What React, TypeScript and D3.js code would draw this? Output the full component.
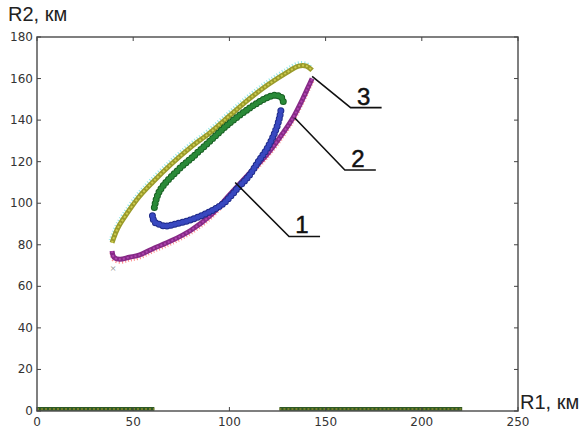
import React from "react";
import * as d3 from "d3";

// outer upper arc (triangles, 3)
const yellowX = [39, 42, 46, 53, 60, 70, 80, 90, 100, 110, 120, 130, 136, 140, 143];
const yellowY = [81, 88, 94, 103, 110, 119, 127, 134, 142, 150, 157, 163, 166, 166, 164];
// inner upper arc (circles)
const greenX = [61, 62, 63.5, 66, 70, 75, 80, 90, 100, 110, 115, 120, 124, 127, 128];
const greenY = [98, 102, 105.5, 109, 113, 117.5, 121.5, 130, 138.5, 145.5, 148.5, 151, 152, 151, 149];
// inner lower arc (circles, 1)
const blueX = [60, 61, 63, 67, 72, 80, 90, 97, 105, 110, 115, 120, 124, 126, 127];
const blueY = [94, 91, 90, 89, 90, 92, 96, 100, 108, 113, 120, 127, 135, 141, 146];
// outer lower arc (triangles, 2)
const magentaX = [39, 40, 43, 48, 53, 60, 70, 80, 90, 100, 110, 120, 128, 133, 138, 141, 143];
const magentaY = [77, 74, 73, 74, 75, 78, 82, 87, 94, 104, 114, 124, 134, 141, 150, 156, 160];
// points lying on R2 = 0
const zeroSegments = [[0, 61], [126, 221]];

const xTicks = [0, 50, 100, 150, 200, 250];
const yTicks = [0, 20, 40, 60, 80, 100, 120, 140, 160, 180];

// leader lines: anchor on curve (data), elbow (data), label
const labels = ["1", "2", "3"];
const anchorX = [103, 134, 143];
const anchorY = [110, 141, 161];
const elbowX = [131, 160, 163];
const elbowY = [84, 116, 146];

const W = 584, H = 428;
const m = { left: 37, right: 66, top: 37, bottom: 17 };

export default function App() {
  const x = d3.scaleLinear().domain([0, 250]).range([m.left, W - m.right]);
  const y = d3.scaleLinear().domain([0, 180]).range([H - m.bottom, m.top]);
  const line = d3
    .line<[number, number]>()
    .x(d => x(d[0]))
    .y(d => y(d[1]))
    .curve(d3.curveCatmullRom);
  const pts = (xs: number[], ys: number[]) => xs.map((v, i) => [v, ys[i]] as [number, number]);

  const yellow = line(pts(yellowX, yellowY)) || "";
  const green = line(pts(greenX, greenY)) || "";
  const blue = line(pts(blueX, blueY)) || "";
  const magenta = line(pts(magentaX, magentaY)) || "";

  const tick = "#444";
  return (
    <svg width={W} height={H} style={{ position: "absolute", left: 0, top: 0, background: "#fff" }}>
      <defs>
        <clipPath id="plot">
          <rect x={m.left} y={m.top} width={W - m.left - m.right} height={H - m.top - m.bottom} />
        </clipPath>
      </defs>
      <g clipPath="url(#plot)">
        {/* zero band */}
        {zeroSegments.map((s, i) => (
          <g key={i}>
            <line x1={x(s[0])} x2={x(s[1])} y1={y(0)} y2={y(0)} stroke="#2f5a25" strokeWidth={8} />
            <line x1={x(s[0])} x2={x(s[1])} y1={y(0) - 2} y2={y(0) - 2} stroke="#8c8a2a" strokeWidth={1.5} strokeDasharray="2 2" />
          </g>
        ))}
        {/* red x under magenta */}
        <path d={magenta} transform="translate(0,2)" fill="none" stroke="#ff7070" strokeWidth={5} strokeDasharray="1 2" opacity={0.8} />
        <text x={x(39.5)} y={y(69) + 4} fontSize={11} fill="#888" textAnchor="middle">×</text>
        <path d={magenta} fill="none" stroke="#862a86" strokeWidth={5} />
        <path d={magenta} fill="none" stroke="#b044b0" strokeWidth={2} strokeDasharray="2 2" />
        {/* cyan x under yellow */}
        <path d={yellow} transform="translate(-1,-2)" fill="none" stroke="#8fe6e6" strokeWidth={5} strokeDasharray="1 2" />
        <path d={yellow} fill="none" stroke="#9a9a2a" strokeWidth={5} />
        <path d={yellow} fill="none" stroke="#cccc50" strokeWidth={2} strokeDasharray="2 2" />
        {/* circles */}
        <path d={green} fill="none" stroke="#175f22" strokeWidth={7} strokeLinecap="round" strokeDasharray="0 4" />
        <path d={green} fill="none" stroke="#2a8a38" strokeWidth={5} strokeLinecap="round" strokeDasharray="0 4" />
        <path d={blue} fill="none" stroke="#1f2b8a" strokeWidth={7} strokeLinecap="round" strokeDasharray="0 4" />
        <path d={blue} fill="none" stroke="#3848c0" strokeWidth={5} strokeLinecap="round" strokeDasharray="0 4" />
      </g>

      {/* frame */}
      <rect x={m.left} y={m.top} width={W - m.left - m.right} height={H - m.top - m.bottom} fill="none" stroke="#555" strokeWidth={1.5} />
      {xTicks.map(t => (
        <g key={"x" + t}>
          <line x1={x(t)} x2={x(t)} y1={y(0)} y2={y(0) - 4} stroke={tick} />
          <line x1={x(t)} x2={x(t)} y1={y(180)} y2={y(180) + 4} stroke={tick} />
          <text x={x(t)} y={H - 2} fontSize={12} fontFamily="DejaVu Sans" fill="#333" textAnchor="middle">{t}</text>
        </g>
      ))}
      {yTicks.map(t => (
        <g key={"y" + t}>
          <line x1={x(0)} x2={x(0) + 4} y1={y(t)} y2={y(t)} stroke={tick} />
          <line x1={x(250)} x2={x(250) - 4} y1={y(t)} y2={y(t)} stroke={tick} />
          <text x={x(0) - 4} y={y(t) + 4} fontSize={12} fontFamily="DejaVu Sans" fill="#333" textAnchor="end">{t}</text>
        </g>
      ))}
      <text x={8} y={21} fontSize={20} fontFamily="Liberation Sans" fill="#222">R2, км</text>
      <text x={520} y={409} fontSize={20} fontFamily="Liberation Sans" fill="#222">R1, км</text>

      {/* leaders */}
      {labels.map((l, i) => (
        <g key={l}>
          <polyline
            points={`${x(anchorX[i])},${y(anchorY[i])} ${x(elbowX[i])},${y(elbowY[i])} ${x(elbowX[i]) + 31},${y(elbowY[i])}`}
            fill="none"
            stroke="#111"
            strokeWidth={1.6}
          />
          <text x={x(elbowX[i]) + 13} y={y(elbowY[i]) - 3} fontSize={24} fontFamily="Liberation Sans Narrow, Liberation Sans" fill="#111" stroke="#111" strokeWidth={0.5} textAnchor="middle">{l}</text>
        </g>
      ))}
    </svg>
  );
}
